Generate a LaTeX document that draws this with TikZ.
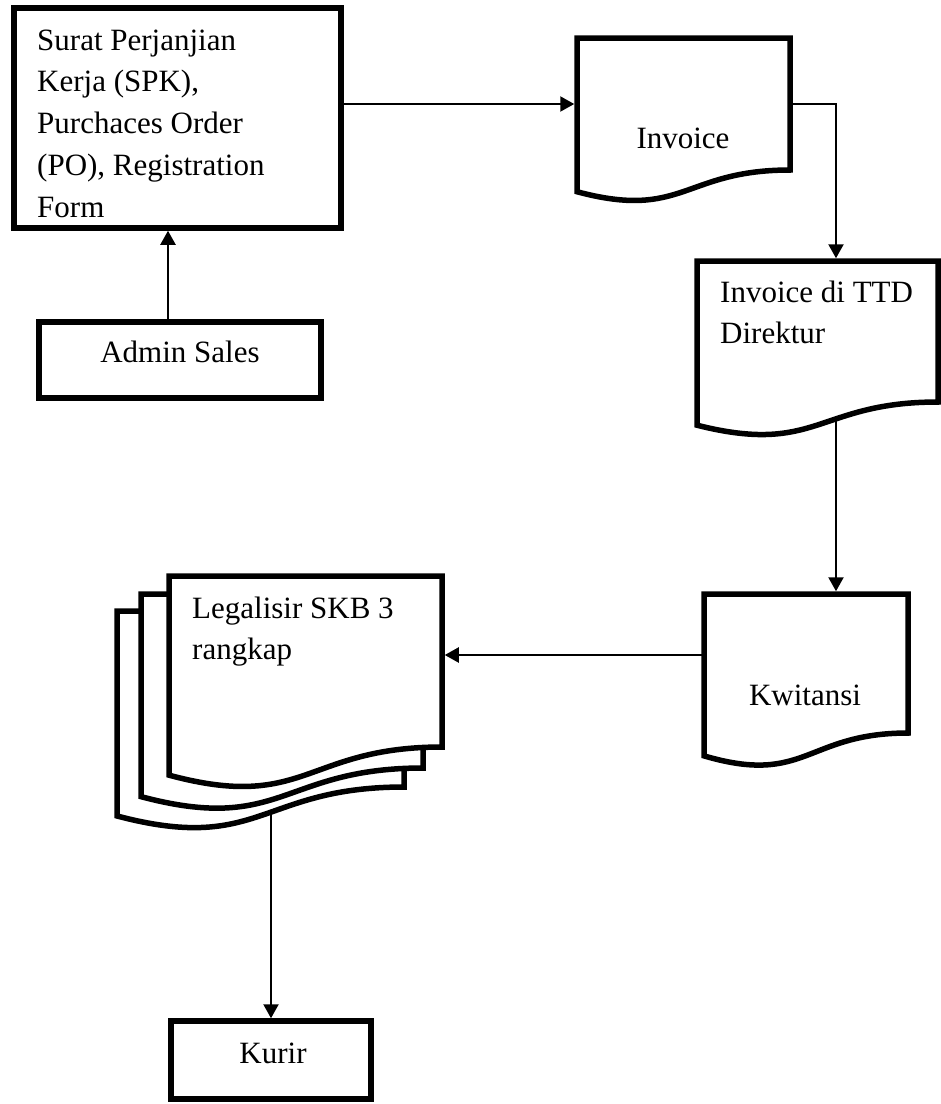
\documentclass[tikz,border=0pt]{standalone}
\usepackage{fontspec}
\setmainfont{Liberation Serif}
\usetikzlibrary{arrows.meta,calc}

\tikzset{
  frame/.style={inner sep=0pt, outer sep=0pt, anchor=north west},
  procbox/.style={frame, draw, line width=5.5pt, fill=white},
  outline/.style={line width=5.5pt, line join=miter, fill=white},
  conn/.style={line width=2.2pt, shorten >=2.75pt, -{Triangle[length=14pt,width=15pt]}},
  txt/.style={font=\fontsize{31}{41.75}\selectfont, inner sep=0pt},
}

% document symbol: straight top and sides, wavy bottom edge
\newcommand{\docoutline}[1]{%
  \draw[outline] let \p1=(#1.north west), \p2=(#1.south east) in
    (\p1) -- (\x2,\y1) -- (\p2)
    .. controls ({(\x1+\x2)/2},\y2) and ({(\x1+\x2)/2},{\y1+1.107*(\y2-\y1)/0.802}) ..
    (\x1,{\y1+0.934*(\y2-\y1)/0.802}) -- cycle;}

\newcommand{\lines}[2]{\parbox[t]{#1}{\raggedright #2}}

\begin{document}
\begin{tikzpicture}[x=1pt,y=-1pt]
\useasboundingbox (0,0) rectangle (941,1104);

% process boxes
\node[procbox, minimum width=327pt, minimum height=220pt] (spk) at (14,8) {};
\node[procbox, minimum width=282pt, minimum height=76pt] (admin) at (39,322) {};
\node[procbox, minimum width=200pt, minimum height=78pt] (kurir) at (171,1021) {};

% frames of the document symbols (upper rectangular part)
\node[frame, minimum width=213pt, minimum height=132pt] (inv) at (577,38) {};
\node[frame, minimum width=241pt, minimum height=141pt] (ttd) at (697,261) {};
\node[frame, minimum width=204pt, minimum height=139pt] (kw) at (704,594) {};
\node[frame, minimum width=287pt, minimum height=176pt] (skb3) at (117,611) {};
\node[frame, minimum width=282pt, minimum height=174pt] (skb2) at (141,594) {};
\node[frame, minimum width=273pt, minimum height=171pt] (skb) at (169,576) {};

% connectors
\draw[conn] ([xshift=-12pt]admin.north) -- ([xshift=-12pt]admin.north |- spk.south);
\draw[conn] (spk.east |- inv.west) -- (inv.west);
\draw[conn] (inv.east) -| ([xshift=18.5pt]ttd.north);
\draw[conn] ([xshift=18.5pt]ttd.south) -- ([xshift=18.5pt]ttd.south |- kw.north);
\draw[conn] ([yshift=8.5pt]kw.west) -- ([yshift=8.5pt]kw.west -| skb.east);
\draw[conn] (skb3.south -| kurir.north) -- (kurir.north);

% document outlines
\docoutline{inv}
\docoutline{ttd}
\docoutline{kw}
\docoutline{skb3}
\docoutline{skb2}
\docoutline{skb}

% texts
\node[txt, anchor=base west] (spktext) at (37,50)
  {\lines{300pt}{Surat Perjanjian\\Kerja (SPK),\\Purchaces Order\\(PO), Registration\\Form}};
\node[txt, anchor=base] (admintext) at (180,362) {Admin Sales};
\node[txt, anchor=base] (invtext) at (683,148) {Invoice};
\node[txt, anchor=base west] (ttdtext) at (720,302)
  {\lines{215pt}{Invoice di TTD\\Direktur}};
\node[txt, anchor=base] (kwtext) at (805,705) {Kwitansi};
\node[txt, anchor=base west] (skbtext) at (192,618)
  {\lines{240pt}{Legalisir SKB 3\\rangkap}};
\node[txt, anchor=base] (kurirtext) at (273,1063) {Kurir};
\end{tikzpicture}
\end{document}
